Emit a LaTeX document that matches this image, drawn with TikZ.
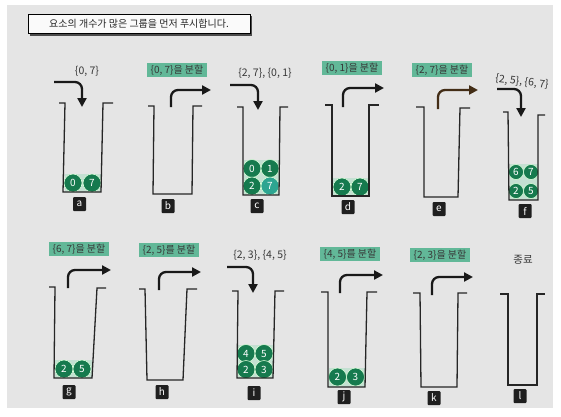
\documentclass[tikz,border=0pt]{standalone}
\usepackage{fontspec}
\setmainfont{Noto Sans CJK KR}
\usetikzlibrary{arrows.meta}
\definecolor{bgc}{RGB}{229,229,229}
\definecolor{hlc}{RGB}{98,184,152}
\definecolor{ballc}{RGB}{22,122,78}
\definecolor{ballt}{RGB}{45,165,145}
\definecolor{stripc}{RGB}{196,224,210}
\definecolor{txtc}{RGB}{55,55,55}
\newcommand{\bucket}[9]{\draw[wall] (#1,#2) -- (#3,#2) -- (#4,#5) -- (#6,#5) -- (#7,#8) -- (#9,#8);}
\newcommand{\ballat}[5]{\node[ball,fill=#4] (#5) at (#1,#2) {#3};}
\newcommand{\pushar}[5]{\draw[arr] (#1,#2) -- (#3,#2) -- (#4,#5);}
\newcommand{\popar}[5]{\draw[arr] (#1,#2) -- (#1,#3) -- (#4,#3);}
\begin{document}
\begin{tikzpicture}[x=1pt,y=-1pt,
  wall/.style={line width=1.3pt,black!85},
  arr/.style={line width=2.3pt,black!90,rounded corners=7pt,-{Triangle[length=9pt,width=9pt]}},
  ball/.style={circle,draw=white!85!green,line width=0.6pt,inner sep=0pt,minimum size=18pt,text=white,font=\fontsize{10}{10}\selectfont},
  strip/.style={fill=stripc,draw=white!80!gray,line width=0.7pt},
  hl/.style={fill=hlc,inner xsep=4pt,inner ysep=1.5pt,text=txtc,font=\fontsize{10}{11}\selectfont},
  plain/.style={text=txtc,font=\fontsize{10.5}{11}\selectfont},
  tag/.style={fill=black!88,rounded corners=1pt,text=white,minimum width=13pt,minimum height=14pt,inner sep=0pt,font=\fontsize{10}{10}\selectfont}]
\useasboundingbox (0,0) rectangle (561,416);
\fill[white] (0,0) rectangle (561,416);
\fill[bgc] (7,5) rectangle (553,408);
% title
\fill[black!70] (30,16) rectangle (252,36);
\node[draw=black,line width=0.9pt,fill=white!96!gray,minimum width=222pt,minimum height=19pt,inner sep=0pt,text=black!85,font=\fontsize{10}{10}\selectfont] (title) at (139,23.5) {요소의 개수가 많은 그룹을 먼저 푸시합니다.};
% ---------- row 1 ----------
% a
\node[plain] (ta) at (87,71) {\{0, 7\}};
\pushar{54}{82}{82}{82}{107}
\fill[strip] (64,173) rectangle (101,192);
\ballat{73}{183}{0}{ballc}{a0}
\ballat{92}{183}{7}{ballc}{a7}
\bucket{59}{103}{65}{63}{192}{101}{103}{103}{113}
\node[tag] (la) at (79.5,204) {a};
% b
\node[hl] (tb) at (177,70) {\{0, 7\}을 분할};
\popar{171}{107}{90}{211}{}
\bucket{148}{106}{154}{153}{194}{192}{193}{106}{202}
\node[tag] (lb) at (168,206) {b};
% c
\node[plain] (tc) at (265,73) {\{2, 7\}, \{0, 1\}};
\pushar{230}{85}{258}{258}{110}
\fill[strip] (243,159) rectangle (279,195);
\ballat{252}{168.5}{0}{ballc}{c0}
\ballat{270}{168.5}{1}{ballc}{c1}
\ballat{252}{186}{2}{ballc}{c2}
\ballat{270}{186}{7}{ballt}{c7}
\bucket{237}{107}{243}{243}{195}{279}{280}{107}{288}
\node[tag] (lc) at (257,206) {c};
% d
\node[hl] (td) at (352,68) {\{0, 1\}을 분할};
\popar{343}{107}{88}{384}{}
\fill[strip] (332,177) rectangle (369,196);
\ballat{342}{187}{2}{ballc}{d2}
\ballat{360}{187}{7}{ballc}{d7}
\bucket{325}{105}{332}{332}{196}{369}{369}{105}{379}
\node[tag] (ld) at (348,207) {d};
% e
\node[hl] (te) at (442,70) {\{2, 7\}을 분할};
\draw[arr,draw=black!65!brown] (438,109) -- (438,90) -- (478,90);
\bucket{416}{107}{424}{424}{197}{458}{460}{108}{470}
\node[tag] (le) at (439,209) {e};
% f
\node[plain,rotate=-7] (tf) at (522,82) {\{2, 5\}, \{6, 7\}};
\pushar{497}{89}{521}{521}{117}
\fill[strip] (509,163) rectangle (538,200);
\ballat{516}{172}{6}{ballc,minimum size=15pt}{f6}
\ballat{531}{172}{7}{ballc,minimum size=15pt}{f7}
\ballat{516}{191}{2}{ballc,minimum size=15pt}{f2}
\ballat{531}{191}{5}{ballc,minimum size=15pt}{f5}
\bucket{503}{112}{508}{509}{200}{538}{538}{115}{545}
\node[tag] (lf) at (525,211) {f};
% ---------- row 2 ----------
% g
\node[hl] (tg) at (79,249) {\{6, 7\}을 분할};
\popar{68}{288}{270}{111}{}
\fill[strip] (54,359) rectangle (92,378);
\ballat{64}{369}{2}{ballc}{g2}
\ballat{82}{369}{5}{ballc}{g5}
\bucket{49}{287}{55}{54}{378}{92}{97}{288}{106}
\node[tag] (lg) at (69,392) {g};
% h
\node[hl] (th) at (169,250) {\{2, 5\}를 분할};
\popar{159}{290}{272}{201}{}
\bucket{139}{289}{145}{147}{380}{183}{187}{289}{197}
\node[tag] (lh) at (162,392) {h};
% i
\node[plain] (ti) at (260,255) {\{2, 3\}, \{4, 5\}};
\pushar{227}{267}{253}{253}{293}
\fill[strip] (237,344) rectangle (273,378);
\ballat{246}{353.5}{4}{ballc}{i4}
\ballat{264}{353.5}{5}{ballc}{i5}
\ballat{246}{369.5}{2}{ballc}{i2}
\ballat{264}{369.5}{3}{ballc}{i3}
\bucket{232}{291}{238}{237}{378}{273}{275}{291}{284}
\node[tag] (li) at (254,393) {i};
% j
\node[hl] (tj) at (350,254) {\{4, 5\}를 분할};
\popar{340}{293}{275}{383}{}
\fill[strip] (328,367) rectangle (365,387);
\ballat{337.5}{377}{2}{ballc}{j2}
\ballat{355.5}{377}{3}{ballc}{j3}
\bucket{321}{292}{328}{328}{387}{365}{367}{292}{377}
\node[tag] (lj) at (344,397) {j};
% k
\node[hl] (tk) at (440,255) {\{2, 3\}을 분할};
\popar{432}{295}{277}{473}{}
\bucket{413}{293}{420}{421}{387}{457}{458}{293}{467}
\node[tag] (lk) at (434,398) {k};
% l
\node[plain] (tl) at (523,260) {종료};
\bucket{500}{294}{508}{508}{385}{537}{537}{294}{545}
\node[tag] (ll) at (520,396) {l};
\end{tikzpicture}
\end{document}
